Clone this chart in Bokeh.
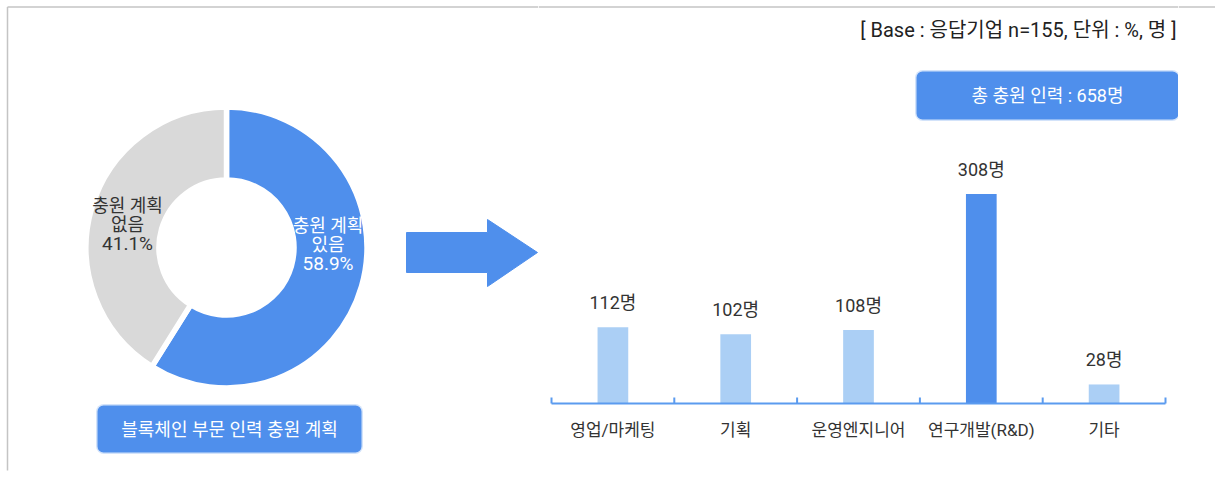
import math
from bokeh.plotting import figure
from bokeh.layouts import row
from bokeh.models import Range1d, FactorRange, ColumnDataSource
from bokeh.transform import dodge
from bokeh.core.properties import value
from bokeh.embed import file_html
from bokeh.resources import INLINE

# ---------------- data ----------------
pie_labels = ["충원 계획\n있음", "충원 계획\n없음"]
pie_values = [58.9, 41.1]
pie_colors = ["#4F8FEC", "#D9D9D9"]
pie_text_colors = ["#FFFFFF", "#333333"]

bar_categories = ["영업/마케팅", "기획", "운영엔지니어", "연구개발(R&D)", "기타"]
bar_values = [112, 102, 108, 308, 28]
bar_colors = ["#ABCFF5", "#ABCFF5", "#ABCFF5", "#4F8FEC", "#ABCFF5"]
bar_unit = "명"

base_note = "[ Base : 응답기업 n=155, 단위 : %, 명 ]"
pie_title = "블록체인 부문 인력 충원 계획"
total_note = f"총 충원 인력 : {sum(bar_values)}{bar_unit}"

# ---------------- styles / layout constants (pixels) ----------------
FONT = "Roboto, Noto Sans CJK KR"
BLUE = "#4F8FEC"
AXIS_BLUE = "#5B9BEF"
BORDER = "#C4C4C4"
TEXT = "#333333"
W, H = 1215, 482
SPLIT = 538                     # left panel | bar panel
AX_L, AX_R, AX_Y = 551, 1165, 403   # bar axis extent / baseline (pixels)
FRAME_R = AX_R + (AX_L - SPLIT)     # right edge of the bar panel
PX_PER_UNIT = 0.68              # bar value scale

ARROW_X = [406, 487, 487, 537, 487, 487, 406]
ARROW_Y = [232, 232, 219, 252, 286, 272, 272]

slot = (AX_R - AX_L) / len(bar_categories)


def ident(px):
    return px


def rounded_box(p, left, right, top, bottom, label, fx=ident, fs="18px", **kw):
    p.quad(left=fx(left - 1.5), right=fx(right + 1.5), top=-top + 1.5, bottom=-bottom - 1.5,
           fill_color=BLUE, fill_alpha=0.25, line_color=None, border_radius=8, **kw)
    p.quad(left=fx(left), right=fx(right), top=-top, bottom=-bottom,
           fill_color=BLUE, line_color=None, border_radius=6, **kw)
    p.text(x=fx((left + right) / 2), y=-(top + bottom) / 2, text=[label],
           text_font=value(FONT), text_font_size=fs, text_color="#FFFFFF",
           text_align="center", text_baseline="middle", **kw)


def blank(width, x0, x1):
    return figure(width=width, height=H, x_range=Range1d(x0, x1), y_range=Range1d(-H, 0),
                  x_axis_type=None, y_axis_type=None, toolbar_location=None,
                  output_backend="svg", min_border=0, outline_line_color=None)


# ---------------- left panel: donut ----------------
L = blank(SPLIT, 0, SPLIT)
L.line(x=[7, 7], y=[-6.5, -470], line_color=BORDER, line_width=1.5)
L.line(x=[7, SPLIT], y=[-6.5, -6.5], line_color=BORDER, line_width=1.5)

cx, cy = 226, -247
total = sum(pie_values)
cum = 0.0
starts, ends = [], []
for v in pie_values:
    a_end = math.pi / 2 - 2 * math.pi * cum / total
    cum += v
    a_start = math.pi / 2 - 2 * math.pi * cum / total
    starts.append(a_start)
    ends.append(a_end)
pie_src = ColumnDataSource(dict(start=starts, end=ends, color=pie_colors))
L.annular_wedge(x=cx, y=cy, inner_radius=67.5, outer_radius=140.5,
                start_angle="start", end_angle="end", fill_color="color",
                line_color="white", line_width=5.5, source=pie_src)

label_offsets = [(101.5, 3), (-99, 23)]
for lab, v, col, (dx, dy) in zip(pie_labels, pie_values, pie_text_colors, label_offsets):
    lines = lab.split("\n") + [f"{v}%"]
    n = len(lines)
    for i, t in enumerate(lines):
        L.text(x=cx + dx, y=cy + dy - (i - (n - 1) / 2) * 19, text=[t],
               text_font=value(FONT), text_font_size="18px" if i < n - 1 else "19px",
               text_color=col, text_align="center", text_baseline="middle")

rounded_box(L, 97, 361, 405, 452, pie_title)

L.patch(x=ARROW_X, y=[-v for v in ARROW_Y], fill_color=BLUE, line_color=BLUE, line_width=1)

# ---------------- middle panel: bars ----------------
pad_units = (AX_L - SPLIT) / slot
xr = FactorRange(factors=bar_categories, range_padding=2 * pad_units / len(bar_categories),
                 range_padding_units="percent")
yr = Range1d(-(H - AX_Y) / PX_PER_UNIT, AX_Y / PX_PER_UNIT)

B = figure(width=FRAME_R - SPLIT, height=H, x_range=xr, y_range=yr, y_axis_type=None,
           toolbar_location=None, output_backend="svg", min_border=0,
           outline_line_color=None)
B.grid.visible = False
B.extra_y_ranges = {"py": Range1d(-H, 0)}
PY = dict(y_range_name="py")


def sx(px):
    # pixel position -> synthetic categorical coordinate
    return (px - AX_L) / slot


B.line(x=[sx(SPLIT), sx(FRAME_R)], y=[-6.5, -6.5], line_color=BORDER, line_width=1.5, **PY)
B.text(x=sx(FRAME_R - 2), y=-29, text=[base_note], text_font=value(FONT),
       text_font_size="20px", text_color="#222222", text_align="right",
       text_baseline="middle", **PY)
rounded_box(B, 916, FRAME_R, 71, 119, total_note, fx=sx, **PY)

src = ColumnDataSource(dict(cat=bar_categories, val=bar_values, color=bar_colors,
                            lab=[f"{v}{bar_unit}" for v in bar_values]))
B.vbar(x="cat", top="val", width=0.25, fill_color="color", line_color=None, source=src)
B.text(x="cat", y="val", text="lab", y_offset=-25, text_font=value(FONT),
       text_font_size="18px", text_color=TEXT, text_align="center",
       text_baseline="middle", source=src)

# axis baseline and boundary ticks
ends_src = ColumnDataSource(dict(first=bar_categories[:1], last=bar_categories[-1:]))
B.segment(x0=dodge("first", -0.5, range=xr), y0=0, x1=dodge("last", 0.5, range=xr), y1=0,
          line_color=AXIS_BLUE, line_width=2, source=ends_src)
tick_h = 6 / PX_PER_UNIT
B.segment(x0=dodge("cat", -0.5, range=xr), y0=0, x1=dodge("cat", -0.5, range=xr), y1=tick_h,
          line_color=AXIS_BLUE, line_width=2, source=src)
B.segment(x0=dodge("last", 0.5, range=xr), y0=0, x1=dodge("last", 0.5, range=xr), y1=tick_h,
          line_color=AXIS_BLUE, line_width=2, source=ends_src)

ax = B.xaxis[0]
ax.fixed_location = 0
ax.axis_line_color = None
ax.major_tick_line_color = None
ax.minor_tick_line_color = None
ax.major_label_text_font = FONT
ax.major_label_text_font_size = "17px"
ax.major_label_text_color = TEXT
ax.major_label_standoff = 10

# ---------------- right strip: rest of the top border ----------------
R = blank(W - FRAME_R, FRAME_R, W)
R.line(x=[FRAME_R, W], y=[-6.5, -6.5], line_color=BORDER, line_width=1.5)

layout = row(L, B, R, spacing=0)

open("out.html", "w").write(file_html(layout, INLINE))
